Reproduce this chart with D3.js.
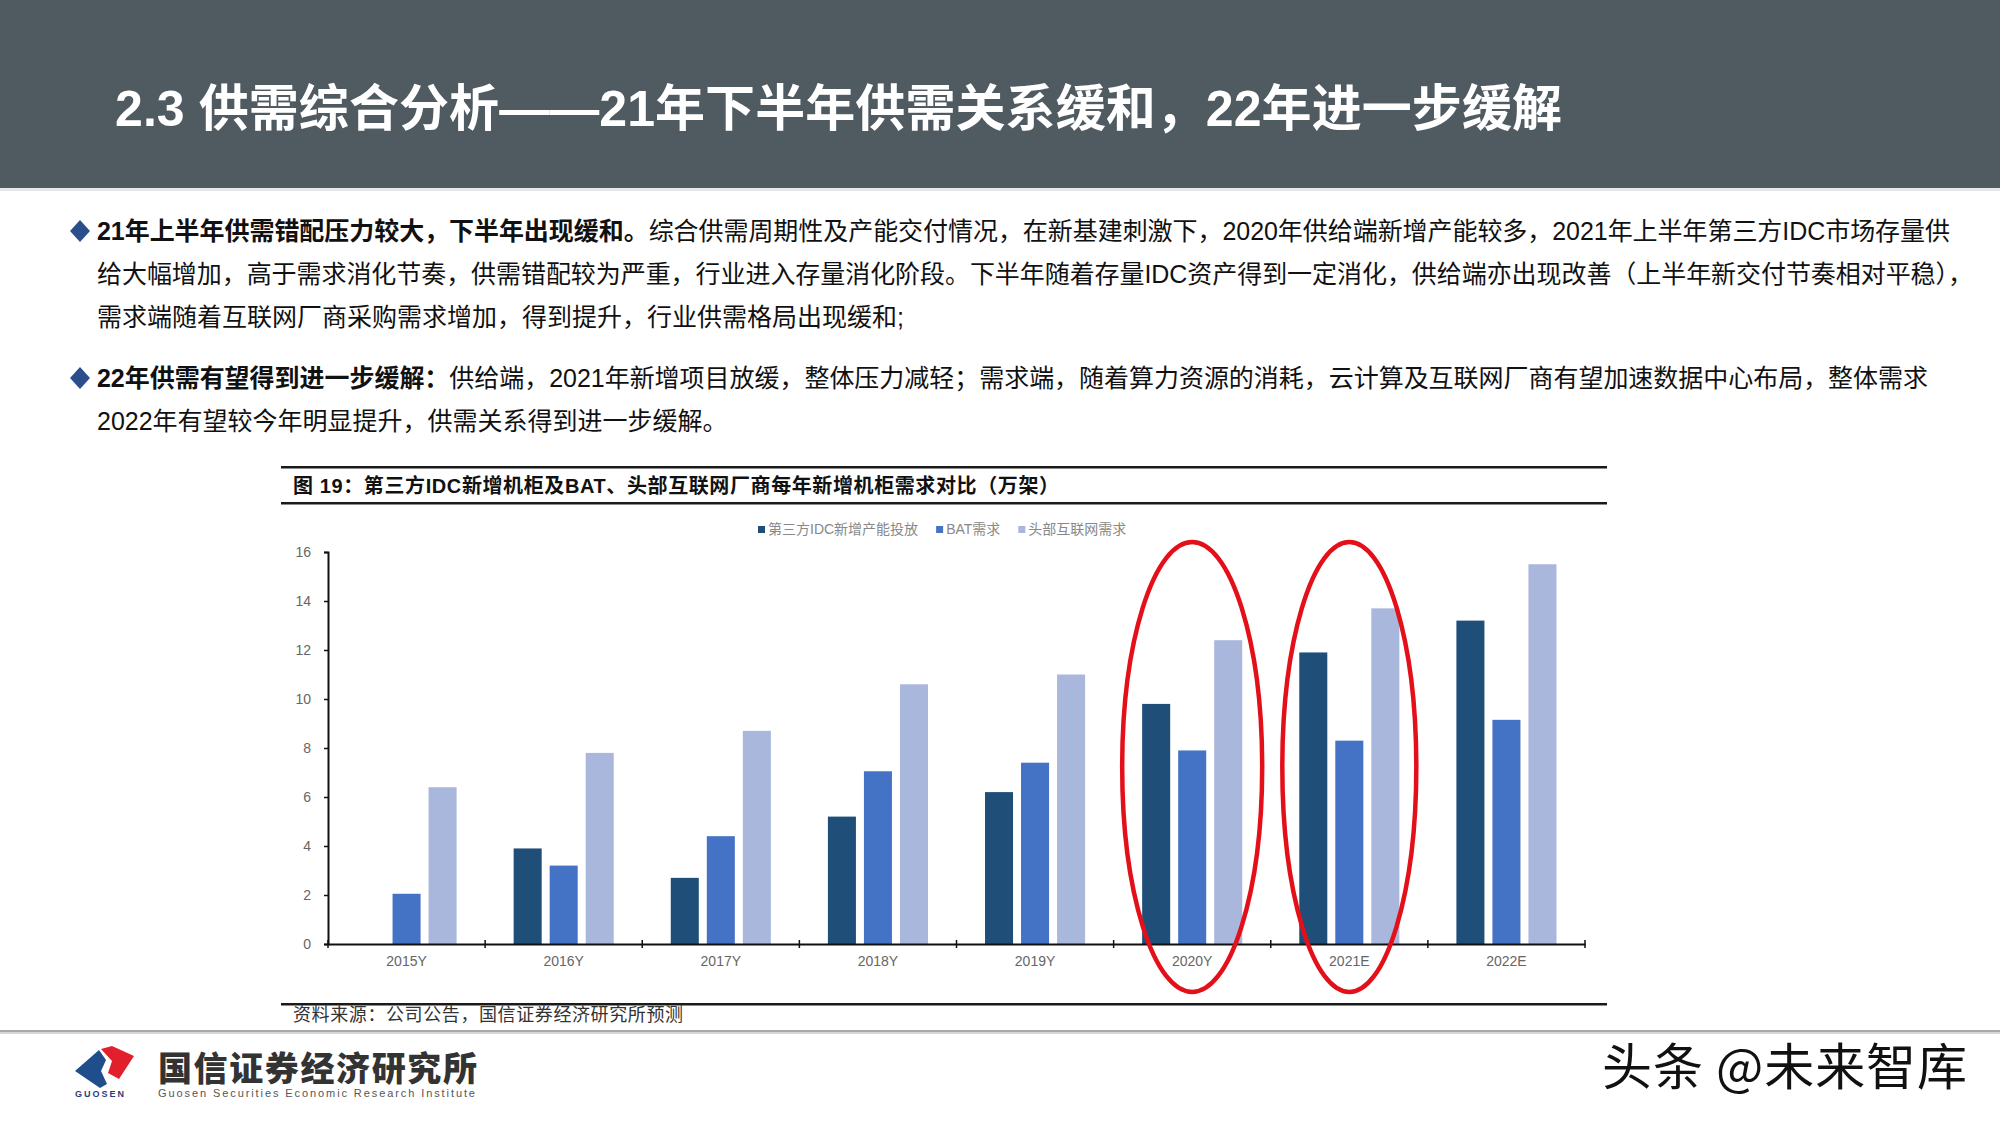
<!DOCTYPE html>
<html>
<head>
<meta charset="utf-8">
<script src="https://cdn.jsdelivr.net/npm/d3@7"></script>
<style>
  html, body { margin: 0; padding: 0; background: #fff; }
  svg { display: block; }
</style>
</head>
<body>
<svg id="c" width="2000" height="1125"></svg>
<script>
// ---------- data ----------
const categories = ['2015Y','2016Y','2017Y','2018Y','2019Y','2020Y','2021E','2022E'];
const seriesNames = ['第三方IDC新增产能投放','BAT需求','头部互联网需求'];
const idcSupply  = [null, 3.9, 2.7, 5.2, 6.2, 9.8, 11.9, 13.2];
const batDemand  = [2.05, 3.2, 4.4, 7.05, 7.4, 7.9, 8.3, 9.15];
const headDemand = [6.4, 7.8, 8.7, 10.6, 11.0, 12.4, 13.7, 15.5];
const yTicks = [0, 2, 4, 6, 8, 10, 12, 14, 16];
const highlighted = ['2020Y', '2021E'];

const titleText = '2.3 供需综合分析——21年下半年供需关系缓和，22年进一步缓解';
const captionText = '图 19：第三方IDC新增机柜及BAT、头部互联网厂商每年新增机柜需求对比（万架）';
const sourceText = '资料来源：公司公告，国信证券经济研究所预测';
const paragraphLines = [
  {bold: '21年上半年供需错配压力较大，下半年出现缓和。', normal: '综合供需周期性及产能交付情况，在新基建刺激下，2020年供给端新增产能较多，2021年上半年第三方IDC市场存量供', bullet: true},
  {bold: '', normal: '给大幅增加，高于需求消化节奏，供需错配较为严重，行业进入存量消化阶段。下半年随着存量IDC资产得到一定消化，供给端亦出现改善（上半年新交付节奏相对平稳），'},
  {bold: '', normal: '需求端随着互联网厂商采购需求增加，得到提升，行业供需格局出现缓和;'},
  {bold: '22年供需有望得到进一步缓解：', normal: '供给端，2021年新增项目放缓，整体压力减轻；需求端，随着算力资源的消耗，云计算及互联网厂商有望加速数据中心布局，整体需求', bullet: true},
  {bold: '', normal: '2022年有望较今年明显提升，供需关系得到进一步缓解。'}
];

// ---------- setup ----------
const svg = d3.select('#c');
const FONT = '"Liberation Sans Narrow","Liberation Sans","Noto Sans CJK SC",sans-serif';
const CJK = '"Liberation Sans","Noto Sans CJK SC",sans-serif';

function fit(sel, target) {
  const n = sel.text().length;
  const w = sel.node().getComputedTextLength();
  let ls = (target - w) / Math.max(1, n - 1);
  ls = Math.max(-6, Math.min(12, ls));
  sel.attr('letter-spacing', ls);
}

svg.append('rect').attr('width', 2000).attr('height', 1125).attr('fill', '#fff');

// header
svg.append('rect').attr('x', 0).attr('y', 0).attr('width', 2000).attr('height', 188).attr('fill', '#4f5a61');
svg.append('rect').attr('x', 0).attr('y', 188).attr('width', 2000).attr('height', 3).attr('fill', '#e4e8ea');
const title = svg.append('text').attr('x', 115).attr('y', 126)
  .attr('fill', '#fff').attr('font-family', FONT).attr('font-weight', 'bold')
  .attr('font-size', 50).text(titleText);
fit(title, 1562 - 115);

// paragraphs
const lineY = [240, 283, 326, 387, 430];
const lineEnd = [1950, 1973, null, 1928, null];
paragraphLines.forEach((ln, i) => {
  if (ln.bullet) {
    const cy = lineY[i] - 9, cx = 80;
    svg.append('path')
      .attr('d', `M${cx - 10},${cy} L${cx},${cy - 11} L${cx + 10},${cy} L${cx},${cy + 11} Z`)
      .attr('fill', '#2b4f8c');
  }
  const t = svg.append('text').attr('x', 97).attr('y', lineY[i])
    .attr('font-family', FONT).attr('font-size', 25).attr('fill', '#111');
  if (ln.bold) t.append('tspan').attr('font-weight', 'bold').text(ln.bold);
  t.append('tspan').text(ln.normal);
  if (lineEnd[i]) fit(t, lineEnd[i] - 97);
});

// chart frame lines & caption
const boxL = 281, boxR = 1607;
svg.append('rect').attr('x', boxL).attr('y', 466).attr('width', boxR - boxL).attr('height', 2.5).attr('fill', '#1a1a1a');
svg.append('rect').attr('x', boxL).attr('y', 502).attr('width', boxR - boxL).attr('height', 2.5).attr('fill', '#1a1a1a');
svg.append('rect').attr('x', boxL).attr('y', 1003).attr('width', boxR - boxL).attr('height', 2.5).attr('fill', '#1a1a1a');
const cap = svg.append('text').attr('x', 293).attr('y', 493)
  .attr('font-family', FONT).attr('font-weight', 'bold').attr('font-size', 20).attr('fill', '#111')
  .text(captionText);
fit(cap, 1059 - 293);
const src = svg.append('text').attr('x', 293).attr('y', 1021)
  .attr('font-family', FONT).attr('font-size', 18).attr('fill', '#333').text(sourceText);
fit(src, 683 - 293);

// ---------- chart ----------
const colors = ['#1f4e79', '#4472c4', '#a9b7dc'];
const seriesValues = [idcSupply, batDemand, headDemand];

const x0 = d3.scaleBand().domain(categories).range([328, 1585]).paddingInner(0.363).paddingOuter(0.1815);
const x1 = d3.scaleBand().domain(d3.range(seriesValues.length)).range([0, x0.bandwidth()]).paddingInner(0.222);
const y = d3.scaleLinear().domain([0, 16]).range([944, 552]);

const g = svg.append('g');

// bars
categories.forEach((cat, ci) => {
  seriesValues.forEach((vals, si) => {
    const v = vals[ci];
    if (v == null) return;
    g.append('rect')
      .attr('x', x0(cat) + x1(si))
      .attr('y', y(v))
      .attr('width', x1.bandwidth())
      .attr('height', y(0) - y(v))
      .attr('fill', colors[si]);
  });
});

// y axis
const yAxis = d3.axisLeft(y).tickValues(yTicks).tickSize(4).tickPadding(13).tickFormat(d3.format('d'));
const yg = g.append('g').attr('transform', 'translate(328,0)').call(yAxis);
yg.select('.domain').attr('stroke', '#111').attr('stroke-width', 2);
yg.selectAll('.tick line').attr('stroke', '#111').attr('stroke-width', 1.5);
yg.selectAll('.tick text').attr('font-family', CJK).attr('font-size', 14).attr('fill', '#666');

// x axis
const xAxis = d3.axisBottom(x0).tickSize(0).tickPadding(12);
const xg = g.append('g').attr('transform', 'translate(0,944)').call(xAxis);
xg.select('.domain').attr('stroke', '#111').attr('stroke-width', 2);
xg.selectAll('.tick text').attr('font-family', CJK).attr('font-size', 14).attr('fill', '#666');
// boundary ticks between categories
const step = x0.step();
const bounds = d3.range(categories.length + 1).map(i => 328 + i * (1585 - 328) / categories.length);
g.selectAll('.btick').data(bounds).enter().append('line')
  .attr('x1', d => d).attr('x2', d => d).attr('y1', 940).attr('y2', 948)
  .attr('stroke', '#111').attr('stroke-width', 1.5);

// legend
let lx = 758;
const ly = 529;
seriesNames.forEach((name, i) => {
  g.append('rect').attr('x', lx).attr('y', ly - 3).attr('width', 7).attr('height', 7).attr('fill', colors[i]);
  const t = g.append('text').attr('x', lx + 10).attr('y', ly + 5)
    .attr('font-family', CJK).attr('font-size', 14).attr('fill', '#888').text(name);
  const w = t.node().getComputedTextLength();
  lx = lx + 10 + w + 18;
});

// highlight ellipses
highlighted.forEach((cat, i) => {
  const cx = x0(cat) + x0.bandwidth() / 2;
  const top = y(16) - 10, bottom = y(0) + 48;
  g.append('ellipse')
    .attr('cx', cx).attr('cy', (top + bottom) / 2)
    .attr('rx', i === 0 ? 70 : 67).attr('ry', (bottom - top) / 2)
    .attr('fill', 'none').attr('stroke', '#e3101a').attr('stroke-width', 4.5);
});

// ---------- footer ----------
svg.append('rect').attr('x', 0).attr('y', 1030).attr('width', 2000).attr('height', 2).attr('fill', '#a8a8a8');
svg.append('rect').attr('x', 0).attr('y', 1032).attr('width', 2000).attr('height', 2).attr('fill', '#d6d6d6');

// logo mark
svg.append('path').attr('d', 'M75,1071 L99,1050 L106,1060 L101,1071 L107,1084 L100,1088 Z').attr('fill', '#1f4e8a');
svg.append('path').attr('d', 'M101,1049 L112,1046 L134,1056 L119,1079 L108,1073 L112,1061 Z').attr('fill', '#e2202c');
svg.append('text').attr('x', 75).attr('y', 1097).attr('font-family', CJK).attr('font-weight', 'bold')
  .attr('font-size', 9).attr('fill', '#1f3f7a').attr('letter-spacing', 2).text('GUOSEN');
const lt = svg.append('text').attr('x', 158).attr('y', 1081).attr('font-family', '"Noto Sans CJK SC",sans-serif')
  .attr('font-weight', 900).attr('font-size', 34).attr('fill', '#333').text('国信证券经济研究所');
fit(lt, 477 - 158);
const le = svg.append('text').attr('x', 158).attr('y', 1097).attr('font-family', CJK)
  .attr('font-size', 11).attr('fill', '#555').text('Guosen Securities Economic Research Institute');
fit(le, 475 - 158);

// watermark
const wm = svg.append('text').attr('x', 1602).attr('y', 1085).attr('font-family', '"Noto Sans CJK SC",sans-serif')
  .attr('font-size', 50).attr('fill', '#111').attr('stroke', '#fff').attr('stroke-width', 1.5)
  .attr('paint-order', 'stroke').text('头条 @未来智库');
fit(wm, 1967 - 1602);
</script>
</body>
</html>
